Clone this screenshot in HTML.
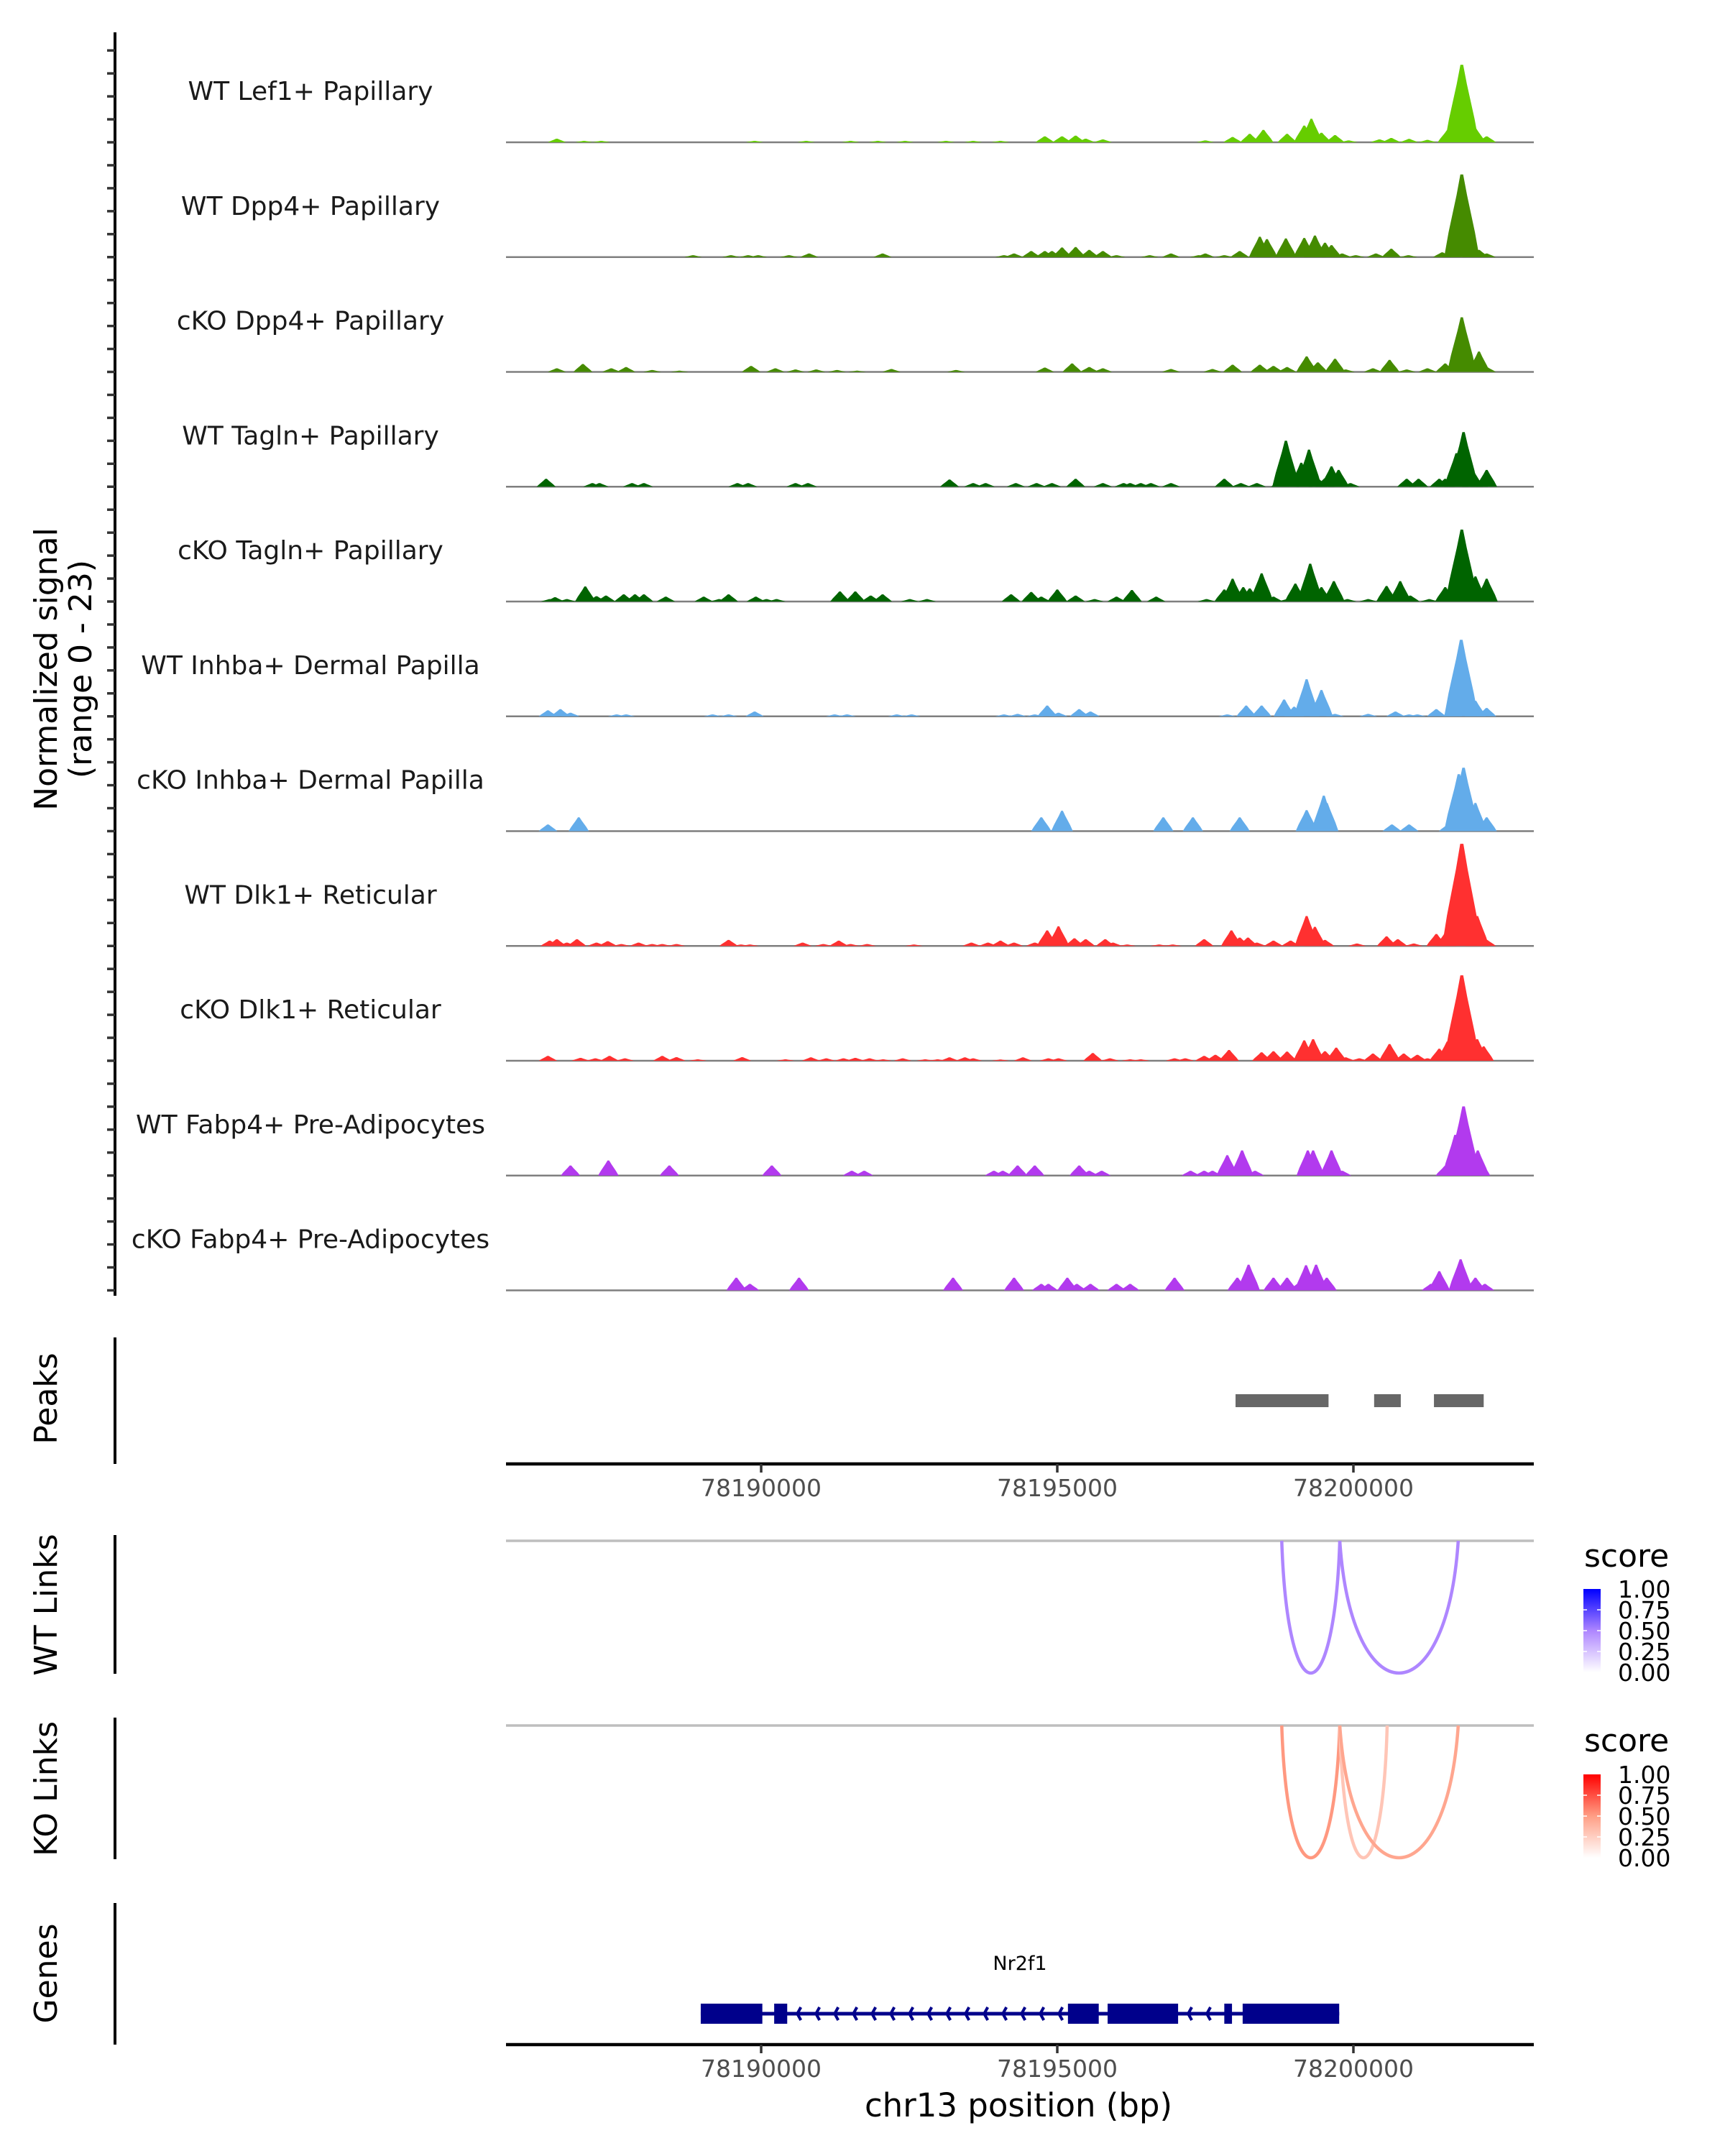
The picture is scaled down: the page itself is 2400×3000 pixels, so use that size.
<!DOCTYPE html>
<html><head><meta charset="utf-8"><style>
html,body{margin:0;padding:0;background:#fff;}
svg{display:block;}
text{font-family:"DejaVu Sans","Liberation Sans",sans-serif;}
</style></head><body>
<svg id="fig" width="2400" height="3000" viewBox="0 0 2400 3000" xmlns="http://www.w3.org/2000/svg">
<rect width="2400" height="3000" fill="#fff"/>
<g id="axes"></g>
<g id="tracks"></g>
<g id="peaks"></g>
<g id="links"></g>
<g id="genes"></g>
<g id="legends"></g>
</svg>
<script>
// ---------- data (positions in kb on chr13, signal 0-23) ----------
const trackNames = ["WT Lef1+ Papillary","WT Dpp4+ Papillary","cKO Dpp4+ Papillary","WT Tagln+ Papillary","cKO Tagln+ Papillary","WT Inhba+ Dermal Papilla","cKO Inhba+ Dermal Papilla","WT Dlk1+ Reticular","cKO Dlk1+ Reticular","WT Fabp4+ Pre-Adipocytes","cKO Fabp4+ Pre-Adipocytes"];
const trackColors = ["#66cd00","#458b00","#458b00","#006400","#006400","#63acea","#63acea","#ff3030","#ff3030","#b23aee","#b23aee"];
const xTicks = [78190,78195,78200];
const xTickLabels = ["78190000","78195000","78200000"];

const lef1Pos = [78186.55,78187.01,78187.30,78189.89,78190.76,78191.51,78191.97,78192.43,78193.12,78193.58,78194.04,78194.79,78195.08,78195.31,78195.48,78195.77,78197.50,78197.96,78198.25,78198.48,78198.88,78199.17,78199.29,78199.46,78199.69,78199.92,78200.44,78200.64,78200.94,78201.25,78201.59,78201.83,78202.06,78202.25];
const lef1Val = [0.77,0.31,0.31,0.31,0.31,0.31,0.31,0.31,0.31,0.31,0.31,1.29,1.29,1.44,0.77,0.62,0.41,1.14,1.81,2.68,1.81,3.61,5.06,2.06,1.55,0.41,0.62,0.93,0.72,0.52,2.58,16.7,2.99,1.29];

const wtDpp4Pos = [78188.85,78189.49,78189.78,78189.95,78190.47,78190.81,78192.05,78194.10,78194.27,78194.56,78194.79,78194.91,78195.08,78195.31,78195.54,78195.77,78196.00,78196.56,78196.92,78197.39,78197.50,78197.82,78198.08,78198.42,78198.54,78198.86,78199.17,78199.35,78199.52,78199.63,78199.81,78200.04,78200.38,78200.64,78200.93,78201.50,78201.65,78201.83,78202.01,78202.12,78202.25];
const wtDpp4Val = [0.41,0.41,0.41,0.41,0.41,0.77,0.77,0.41,0.77,1.29,1.29,1.29,2.06,2.17,1.55,1.29,0.41,0.41,0.77,0.41,0.77,0.41,1.29,4.39,3.87,4.02,4.13,4.64,3.1,2.58,0.77,0.41,0.77,1.81,0.41,1.03,1.55,17.8,2.58,1.55,0.77];

const koDpp4Pos = [78186.55,78186.99,78187.47,78187.72,78188.16,78188.62,78189.83,78190.24,78190.58,78190.93,78191.28,78191.62,78192.20,78193.29,78194.79,78195.25,78195.54,78195.77,78196.92,78197.62,78197.96,78198.42,78198.65,78198.88,78199.21,78199.40,78199.69,78199.87,78200.33,78200.61,78200.90,78201.25,78201.55,78201.83,78202.12,78202.25];
const koDpp4Val = [0.77,1.7,0.77,1.03,0.41,0.26,1.29,0.77,0.52,0.52,0.41,0.26,0.62,0.41,0.93,1.81,1.03,0.77,0.62,0.62,1.55,1.55,1.29,1.03,3.35,2.06,2.84,0.52,0.77,2.58,0.52,0.77,1.81,11.76,4.39,1.03];

const wtTaglnPos = [78186.37,78187.15,78187.27,78187.82,78188.02,78189.60,78189.78,78190.58,78190.79,78193.18,78193.58,78193.79,78194.30,78194.65,78194.91,78195.31,78195.77,78196.12,78196.23,78196.41,78196.58,78196.92,78197.82,78198.10,78198.37,78198.77,78198.86,78199.12,78199.25,78199.40,78199.52,78199.63,78199.75,78199.95,78200.90,78201.10,78201.45,78201.55,78201.74,78201.86,78202.01,78202.12,78202.25];
const wtTaglnVal = [1.7,0.77,0.77,0.77,0.77,0.77,0.77,0.77,0.77,1.55,0.77,0.77,0.77,0.77,0.77,1.7,0.77,0.77,0.77,0.77,0.77,0.77,1.7,0.77,0.77,1.55,9.9,5.16,8.0,1.81,1.81,4.39,3.61,0.77,1.7,1.7,1.7,1.7,7.22,11.76,3.61,0.77,3.61];

const koTaglnPos = [78186.43,78186.52,78186.72,78187.03,78187.22,78187.38,78187.68,78187.87,78188.02,78188.39,78189.03,78189.29,78189.45,78189.91,78190.09,78190.26,78191.33,78191.59,78191.85,78192.05,78192.51,78192.80,78194.22,78194.56,78194.73,78195.00,78195.31,78195.63,78196.00,78196.26,78196.67,78197.52,78197.82,78197.96,78198.14,78198.25,78198.45,78198.65,78198.88,78199.02,78199.27,78199.46,78199.67,78199.90,78200.25,78200.56,78200.79,78200.96,78201.28,78201.55,78201.83,78202.06,78202.25];
const koTaglnVal = [0.52,0.93,0.52,3.25,1.14,1.29,1.55,1.55,1.55,1.03,1.03,0.52,1.55,1.03,0.52,0.52,2.17,2.17,1.29,1.55,0.52,0.52,1.55,2.06,1.03,2.58,1.29,0.52,1.03,2.48,1.03,0.52,2.58,4.9,3.1,2.84,6.09,1.03,0.52,3.87,8.15,3.1,4.39,0.52,0.52,3.35,4.39,1.29,0.52,3.1,15.5,5.42,4.9];

const wtInhbaPos = [78186.40,78186.61,78186.78,78187.56,78187.72,78189.18,78189.45,78189.89,78191.24,78191.45,78192.29,78192.54,78194.10,78194.33,78194.62,78194.83,78195.02,78195.37,78195.56,78197.87,78198.19,78198.45,78198.83,78199.00,78199.21,78199.46,78199.69,78200.25,78200.71,78200.94,78201.08,78201.40,78201.67,78201.82,78202.06,78202.25];
const wtInhbaVal = [1.29,1.55,0.77,0.41,0.41,0.41,0.41,1.03,0.41,0.41,0.41,0.41,0.41,0.52,0.41,2.32,0.77,1.55,1.03,0.41,2.32,2.32,3.61,2.06,8.0,5.68,0.52,0.52,1.03,0.41,0.41,1.55,1.81,16.5,3.35,1.81];

const koInhbaPos = [78186.40,78186.92,78194.73,78195.08,78196.79,78197.29,78198.08,78199.21,78199.44,78199.50,78199.55,78200.65,78200.94,78201.60,78201.78,78201.86,78202.06,78202.25];
const koInhbaVal = [1.44,2.99,2.99,4.39,2.99,2.99,2.99,4.54,4.02,7.64,6.09,1.44,1.44,1.44,12.28,13.67,6.09,2.99];

const wtDlk1Pos = [78186.43,78186.55,78186.72,78186.89,78187.22,78187.41,78187.64,78187.93,78188.16,78188.33,78188.57,78189.45,78189.66,78189.81,78190.70,78191.05,78191.31,78191.51,78191.79,78192.58,78193.55,78193.83,78194.04,78194.27,78194.62,78194.83,78195.02,78195.29,78195.48,78195.81,78195.94,78196.18,78196.72,78196.95,78197.48,78197.94,78198.08,78198.22,78198.37,78198.65,78198.94,78199.21,78199.35,78199.52,78200.06,78200.56,78200.75,78201.02,78201.40,78201.57,78201.83,78202.09,78202.25];
const wtDlk1Val = [1.14,1.44,0.72,1.44,0.72,1.03,0.41,0.72,0.41,0.41,0.41,1.29,0.31,0.31,0.72,0.41,1.14,0.41,0.41,0.31,0.72,0.72,1.14,0.72,0.72,3.35,4.23,1.65,1.44,1.44,0.72,0.31,0.31,0.31,1.44,3.35,1.81,1.81,0.72,1.14,1.14,6.45,4.13,1.29,0.52,2.06,1.44,0.52,2.58,3.1,22,6.45,1.29];

const koDlk1Pos = [78186.40,78186.95,78187.20,78187.44,78187.70,78188.33,78188.57,78188.93,78189.68,78190.41,78190.84,78191.10,78191.39,78191.59,78191.83,78192.06,78192.39,78192.77,78192.98,78193.18,78193.44,78193.58,78194.04,78194.42,78194.85,78195.02,78195.60,78195.89,78196.23,78196.41,78196.98,78197.16,78197.48,78197.67,78197.90,78198.45,78198.65,78198.88,78199.17,78199.32,78199.52,78199.71,78199.87,78200.10,78200.33,78200.61,78200.85,78201.08,78201.25,78201.45,78201.59,78201.83,78202.09,78202.20];
const koDlk1Val = [1.03,0.62,0.52,1.03,0.52,1.03,0.77,0.31,0.77,0.31,0.72,0.52,0.52,0.62,0.52,0.31,0.52,0.31,0.31,0.72,0.72,0.52,0.26,0.72,0.52,0.52,1.65,0.52,0.31,0.31,0.52,0.52,1.03,1.29,2.32,1.81,2.06,1.96,4.39,4.64,2.06,2.84,0.72,0.52,1.55,3.61,1.55,1.29,0.52,2.58,4.13,18.4,4.64,3.1];

const wtFabp4Pos = [78186.78,78187.42,78188.45,78190.18,78191.53,78191.74,78193.93,78194.08,78194.33,78194.62,78195.37,78195.54,78195.75,78197.25,78197.48,78197.62,78197.87,78198.12,78198.34,78199.23,78199.32,78199.63,78199.81,78201.55,78201.72,78201.86,78202.10,78202.14];
const wtFabp4Val = [2.17,3.25,2.17,2.17,1.03,1.03,1.03,1.03,2.17,2.17,2.17,1.03,1.03,1.03,1.03,1.03,4.39,5.42,1.03,5.42,5.42,5.42,1.03,2.06,8.77,14.9,5.42,3.1];

const koFabp4Pos = [78189.58,78189.81,78190.64,78193.24,78194.27,78194.73,78194.85,78195.17,78195.33,78195.56,78196.00,78196.23,78196.98,78198.04,78198.23,78198.65,78198.88,78199.06,78199.20,78199.37,78199.55,78201.31,78201.45,78201.81,78202.06,78202.22];
const koFabp4Val = [2.73,1.39,2.73,2.73,2.73,1.39,1.39,2.73,1.39,1.39,1.39,1.39,2.73,2.73,5.52,2.73,2.73,1.39,5.42,5.52,2.73,1.39,4.13,6.7,2.73,1.39];

const peakStarts = [78198.01,78200.35,78201.36];
const peakEnds   = [78199.58,78200.80,78202.20];

const wtLinkStarts = [78198.79,78199.77];
const wtLinkEnds   = [78199.77,78201.77];
const wtLinkScores = [0.5,0.5];
const koLinkStarts = [78198.79,78199.77,78199.77];
const koLinkEnds   = [78199.77,78200.57,78201.77];
const koLinkScores = [0.52,0.3,0.46];

const exonStarts = [78188.98,78190.22,78195.18,78195.85,78197.82,78198.13];
const exonEnds   = [78190.02,78190.44,78195.70,78197.04,78197.95,78199.76];
const geneName = "Nr2f1";

// ---------- scales / layout ----------
const NS = "http://www.w3.org/2000/svg";
const X0 = 704, X1 = 2134;
function xs(kb){ return 1059 + (kb - 78190) * 82.4; }
const base0 = 198, trackStep = 159.75, pxPerUnit = 6.46;
function ys(i, v){ return base0 + i*trackStep - v*pxPerUnit; }
function el(tag, attrs, parent){
  const e = document.createElementNS(NS, tag);
  for (const k in attrs) e.setAttribute(k, attrs[k]);
  parent.appendChild(e); return e;
}
const gAxes = document.getElementById('axes');
const gTr = document.getElementById('tracks');
const gPk = document.getElementById('peaks');
const gLk = document.getElementById('links');
const gGn = document.getElementById('genes');
const gLg = document.getElementById('legends');

function txt(parent, x, y, s, size, fill, anchor, rot){
  const t = el('text', {x:x, y:y, 'font-size':size, fill:fill, 'text-anchor':anchor||'middle'}, parent);
  if (rot) t.setAttribute('transform', 'rotate(-90 '+x+' '+y+')');
  t.textContent = s; return t;
}

// left axes
function vline(y1, y2, name){
  const l = el('line', {x1:160, x2:160, y1:y1, y2:y2, stroke:'#000', 'stroke-width':4}, gAxes);
  
  
}
vline(45, 1803, 'signal-y-axis');
vline(1861, 2037, 'peaks-y-axis');
vline(2136, 2329, 'wt-links-y-axis');
vline(2390, 2587, 'ko-links-y-axis');
vline(2648, 2845, 'genes-y-axis');
for (let k = 0; k <= 54; k++){
  const y = base0 - 4*trackStep/5 + k*trackStep/5;
  const t = el('line', {x1:149, x2:160, y1:y, y2:y, stroke:'#333', 'stroke-width':3.5}, gAxes);
  
  
}
let t1 = txt(gAxes, 79, 931, 'Normalized signal', 44, '#000', 'middle', true);


let t2 = txt(gAxes, 127, 931, '(range 0 - 23)', 44, '#000', 'middle', true);


[['Peaks',1946,'peaks-title'],['WT Links',2233,'wt-links-title'],['KO Links',2489,'ko-links-title'],['Genes',2746,'genes-title']].forEach(p=>{
  const t = txt(gAxes, 79, p[1], p[0], 44, '#000', 'middle', true);
  
  
});

// signal tracks
const posArrays = [lef1Pos,wtDpp4Pos,koDpp4Pos,wtTaglnPos,koTaglnPos,wtInhbaPos,koInhbaPos,wtDlk1Pos,koDlk1Pos,wtFabp4Pos,koFabp4Pos];
const valArrays = [lef1Val,wtDpp4Val,koDpp4Val,wtTaglnVal,koTaglnVal,wtInhbaVal,koInhbaVal,wtDlk1Val,koDlk1Val,wtFabp4Val,koFabp4Val];
trackNames.forEach((name, i) => {
  const g = el('g', {}, gTr);
  
  
  const base = ys(i, 0);
  const lab = txt(g, 432, base - 59, name, 36, '#1a1a1a', 'middle');
  
  
  const bl = el('line', {x1:X0, x2:X1, y1:base, y2:base, stroke:'#7f7f7f', 'stroke-width':2.5}, g);
  
  
  const P = posArrays[i], V = valArrays[i];
  for (let j = 0; j < P.length; j++){
    const x = xs(P[j]), top = ys(i, V[j]), h = base - top;
    const hw = 12 + 0.7*V[j];
    const pts = [[x-hw,base],[x-hw*0.75,base-h*0.3],[x-hw*0.3,base-h*0.75],[x-hw*0.08,top],[x+hw*0.08,top],[x+hw*0.3,base-h*0.75],[x+hw*0.75,base-h*0.3],[x+hw,base]]
      .map(p=>p[0].toFixed(1)+','+p[1].toFixed(1)).join(' ');
    const pk = el('polygon', {points:pts, fill:trackColors[i]}, g);
    
    
  }
});

// x axes
function xAxis(y, name){
  const g = el('g', {}, gAxes);
  
  
  const l = el('line', {x1:X0, x2:X1, y1:y, y2:y, stroke:'#000', 'stroke-width':4.5}, g);
  
  
  xTicks.forEach((t, k) => {
    const x = xs(t);
    const tk = el('line', {x1:x, x2:x, y1:y, y2:y+12, stroke:'#333', 'stroke-width':3.5}, g);
    
    
    const tl = txt(g, x, y+45, xTickLabels[k], 33, '#4d4d4d', 'middle');
    
    
  });
}
xAxis(2037, 'peaks-x-axis');
xAxis(2845, 'bottom-x-axis');
const xt = txt(gAxes, 1417, 2945, 'chr13 position (bp)', 45, '#000', 'middle');



// peaks
peakStarts.forEach((s, k) => {
  const r = el('rect', {x:xs(s), y:1940, width:xs(peakEnds[k])-xs(s), height:18, fill:'#676767'}, gPk);
  
  
});

// links
function mix(c1, c2, t){ return c1.map((v,i)=>Math.round(v+(c2[i]-v)*t)); }
function scoreColor(s, mid, full){
  const w = [255,255,255];
  const c = s <= 0.5 ? mix(w, mid, s/0.5) : mix(mid, full, (s-0.5)/0.5);
  return 'rgb('+c.join(',')+')';
}
const WT_MID = [174,134,255], WT_FULL = [0,0,255];
const KO_MID = [255,158,133], KO_FULL = [255,0,0];
function linkPanel(y0, starts, ends, scores, mid, full, name){
  const g = el('g', {}, gLk);
  
  
  const bl = el('line', {x1:X0, x2:X1, y1:y0, y2:y0, stroke:'#bebebe', 'stroke-width':3.5}, g);
  
  
  const depth = 184;
  starts.forEach((s, k) => {
    const a = xs(s), b = xs(ends[k]), cd = depth*4/3, off = (b-a)*0.1;
    const p = el('path', {d:'M'+a+','+y0+' C'+(a+off)+','+(y0+cd)+' '+(b-off)+','+(y0+cd)+' '+b+','+y0,
      fill:'none', stroke:scoreColor(scores[k], mid, full), 'stroke-width':4.5}, g);
    
    
  });
}
linkPanel(2144, wtLinkStarts, wtLinkEnds, wtLinkScores, WT_MID, WT_FULL, 'wt-links');
linkPanel(2401, koLinkStarts, koLinkEnds, koLinkScores, KO_MID, KO_FULL, 'ko-links');

// genes
const gy = 2802, navy = '#00008b';
const il = el('line', {x1:xs(exonStarts[0]), x2:xs(exonEnds[exonEnds.length-1]), y1:gy, y2:gy, stroke:navy, 'stroke-width':5}, gGn);


for (let k = 0; k < exonStarts.length - 1; k++){
  const a = xs(exonEnds[k]) + 14, b = xs(exonStarts[k+1]) - 6;
  for (let x = a; x < b; x += 26){
    const c = el('polyline', {points:(x+5)+','+(gy-9)+' '+x+','+gy+' '+(x+5)+','+(gy+9), fill:'none', stroke:navy, 'stroke-width':4}, gGn);
    
    
  }
}
exonStarts.forEach((s, k) => {
  const r = el('rect', {x:xs(s), y:gy-14, width:xs(exonEnds[k])-xs(s), height:28, fill:navy}, gGn);
  
  
});
const gl = txt(gGn, 1419, 2741, geneName, 27, '#000', 'middle');



// legends
function legend(yTitle, yTop, mid, full, name, gid){
  const g = el('g', {}, gLg);
  
  
  const defs = el('defs', {}, g);
  const lg = el('linearGradient', {id:gid, x1:0, y1:1, x2:0, y2:0}, defs);
  el('stop', {offset:'0', 'stop-color':'#ffffff'}, lg);
  el('stop', {offset:'0.5', 'stop-color':'rgb('+mid.join(',')+')'}, lg);
  el('stop', {offset:'1', 'stop-color':'rgb('+full.join(',')+')'}, lg);
  const tt = txt(g, 2204, yTitle, 'score', 44, '#000', 'start');
  
  
  const h = 116;
  const bar = el('rect', {x:2203, y:yTop, width:24, height:h, fill:'url(#'+gid+')'}, g);
  
  
  ['1.00','0.75','0.50','0.25','0.00'].forEach((s, k) => {
    const y = yTop + k*h/4;
    if (k > 0 && k < 4){
      el('line', {x1:2203, x2:2208, y1:y, y2:y, stroke:'#fff', 'stroke-width':1.5}, g);
      el('line', {x1:2222, x2:2227, y1:y, y2:y, stroke:'#fff', 'stroke-width':1.5}, g);
    }
    const lt = txt(g, 2251, y + 12, s, 33, '#000', 'start');
    
    
  });
}
legend(2180, 2211, WT_MID, WT_FULL, 'wt-score-legend', 'gradWT');
legend(2437, 2469, KO_MID, KO_FULL, 'ko-score-legend', 'gradKO');
</script>
</body></html>
